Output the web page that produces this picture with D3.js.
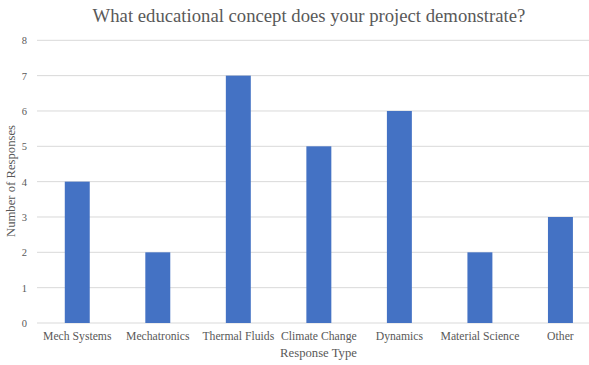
<!DOCTYPE html>
<html>
<head>
<meta charset="utf-8">
<script src="https://cdn.jsdelivr.net/npm/d3@7"></script>
<style>
  html, body { margin: 0; padding: 0; background: #fff; }
  svg { display: block; }
  svg text { font-family: "Liberation Serif", "Times New Roman", Times, serif; }
</style>
</head>
<body>
<svg id="chart" width="589" height="365"></svg>
<script>
// Survey responses per educational concept
const categories = ["Mech Systems", "Mechatronics", "Thermal Fluids", "Climate Change", "Dynamics", "Material Science", "Other"];
const responses = [4, 2, 7, 5, 6, 2, 3];
const yTicks = [0, 1, 2, 3, 4, 5, 6, 7, 8];

const titleText = "What educational concept does your project demonstrate?";
const xTitle = "Response Type";
const yTitle = "Number of Responses";

const svg = d3.select("#chart");
const textColor = "#595959";

const plot = { left: 37, right: 600.7, top: 40.3, bottom: 323 };

const x = d3.scaleBand()
  .domain(categories)
  .range([plot.left, plot.right])
  .paddingInner(0.69)
  .paddingOuter(0.345);

const y = d3.scaleLinear()
  .domain([0, 8])
  .range([plot.bottom, plot.top]);

// horizontal gridlines
svg.append("g")
  .selectAll("line")
  .data(yTicks)
  .join("line")
  .attr("x1", plot.left)
  .attr("x2", plot.right)
  .attr("y1", d => y(d))
  .attr("y2", d => y(d))
  .attr("stroke", "#d9d9d9")
  .attr("stroke-width", 1);

// y axis tick labels
const yAxis = d3.axisLeft(y).tickValues(yTicks).tickSize(0).tickPadding(10);
svg.append("g")
  .attr("transform", `translate(${plot.left},0)`)
  .call(yAxis)
  .attr("font-family", null)
  .call(g => g.select(".domain").remove())
  .call(g => g.selectAll("text")
    .style("font-size", "10.5px")
    .attr("fill", textColor));

// bars
svg.append("g")
  .selectAll("rect")
  .data(categories)
  .join("rect")
  .attr("x", d => x(d))
  .attr("width", x.bandwidth())
  .attr("y", (d, i) => y(responses[i]))
  .attr("height", (d, i) => y(0) - y(responses[i]))
  .attr("fill", "#4472c4");

// x axis category labels
const xAxis = d3.axisBottom(x).tickSize(0).tickPadding(9);
svg.append("g")
  .attr("transform", `translate(0,${plot.bottom})`)
  .call(xAxis)
  .attr("font-family", null)
  .call(g => g.select(".domain").remove())
  .call(g => g.selectAll("text")
    .style("font-size", "11.7px")
    .attr("fill", textColor));

// chart title
svg.append("text")
  .attr("x", 309)
  .attr("y", 22)
  .attr("text-anchor", "middle")
  .style("font-size", "18.7px")
  .attr("fill", textColor)
  .text(titleText);

// axis titles
svg.append("text")
  .attr("x", 318.5)
  .attr("y", 357)
  .attr("text-anchor", "middle")
  .style("font-size", "12.7px")
  .attr("fill", textColor)
  .text(xTitle);

svg.append("text")
  .attr("transform", `translate(15,181) rotate(-90)`)
  .attr("text-anchor", "middle")
  .style("font-size", "12.7px")
  .attr("fill", textColor)
  .text(yTitle);
</script>
</body>
</html>
